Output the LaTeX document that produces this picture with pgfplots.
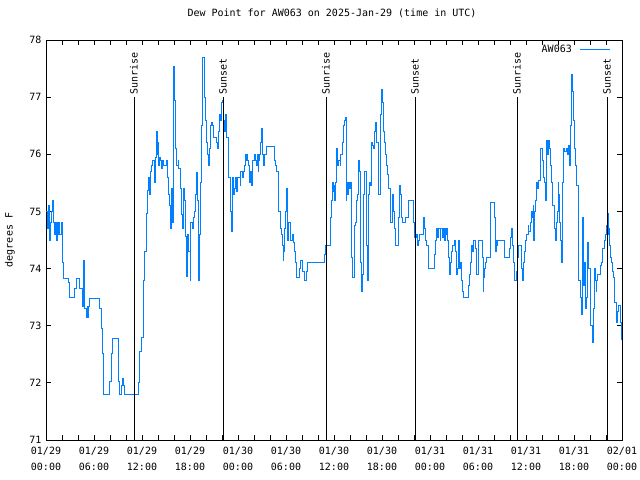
\documentclass[border=0pt]{standalone}
\usepackage{pgfplots}
\usepackage{pgfplotstable}
\pgfplotsset{compat=1.18}
\usepackage{fontspec}
\setmainfont{DejaVu Sans Mono}
\definecolor{dew}{RGB}{0,128,255}
\pgfplotstableread{
p v
0 75.0
1 74.7
2 75.1
3 74.5
4 74.8
5 75.0
6 75.2
7 74.8
8 74.6
9 74.8
10 74.5
11 74.8
12 74.6
13 74.8
14 74.6
15 74.8
16 74.1
17 73.83
22 73.75
24 73.5
29 73.65
30 73.83
34 73.65
36 73.33
37 73.65
38 74.15
39 73.3
40 73.15
41 73.33
42 73.15
43 73.33
44 73.47
54 73.3
55 72.96
56 72.52
57 72.03
58 71.79
64 72.03
65 72.52
66 72.78
72 72.52
73 72.03
74 71.79
75 71.95
76 72.08
78 71.95
79 71.79
93 72.0
94 72.55
95 72.8
97 73.15
98 73.8
99 74.3
100 74.55
101 74.97
102 75.37
103 75.6
104 75.3
105 75.7
106 75.8
107 75.9
108 75.5
109 75.95
110 76.4
111 76.0
112 76.2
113 75.8
114 75.95
115 75.9
116 75.75
117 75.9
118 75.8
119 75.8
120 75.9
121 75.6
122 75.3
123 75.1
124 74.7
125 75.15
126 75.4
127 74.8
128 77.53
129 76.95
130 76.1
131 75.8
132 75.9
133 75.75
134 75.4
135 74.95
136 74.7
137 75.0
138 75.4
139 75.2
140 74.57
141 73.87
142 74.6
143 74.3
144 73.8
145 74.8
146 74.7
147 74.9
148 75.0
149 75.3
150 75.69
152 75.2
153 73.8
154 74.6
155 75.5
156 76.5
157 77.7
158 77.0
159 76.6
160 76.2
161 76.0
162 75.9
163 75.8
164 76.1
165 76.5
166 76.55
167 76.5
168 76.3
169 76.3
170 76.2
171 76.1
172 76.4
173 76.7
174 76.6
175 76.7
176 76.9
177 76.95
178 76.6
179 76.4
180 76.7
181 76.3
182 76.1
183 75.6
184 75.0
185 74.65
186 75.6
187 75.45
188 75.3
189 75.4
190 75.6
191 75.35
192 75.6
193 75.6
194 75.45
195 75.7
196 75.6
197 75.7
198 75.8
199 76.0
200 75.9
201 76.0
202 75.9
203 75.8
204 75.5
205 75.7
206 75.45
207 75.9
208 76.0
209 75.9
210 75.8
211 76.0
212 75.7
213 75.9
214 76.0
215 76.2
216 76.45
217 76.0
218 75.8
219 76.0
220 76.13
229 75.9
230 75.8
231 75.7
232 75.4
233 75.0
234 74.7
235 74.6
236 74.4
237 74.15
238 74.3
239 74.7
240 75.0
241 75.4
242 74.5
243 74.8
244 74.6
245 74.5
246 74.6
247 74.45
248 74.3
249 74.1
250 73.84
254 74.0
255 74.14
257 73.95
258 73.8
260 73.95
261 74.1
279 74.25
280 74.4
284 74.9
285 75.2
286 75.5
287 75.35
288 75.45
289 75.2
290 75.5
291 76.1
292 75.8
293 75.9
294 75.8
295 76.0
296 76.2
297 76.5
298 76.6
299 76.65
300 75.2
301 75.5
302 75.3
303 75.5
304 75.4
305 75.5
306 74.2
307 73.85
308 74.75
309 74.8
310 75.2
311 75.3
312 75.8
313 75.9
314 75.7
315 74.1
316 73.6
317 73.9
318 75.3
319 75.7
320 74.4
321 73.8
322 75.3
323 75.5
324 75.45
325 76.1
326 76.2
327 76.15
328 76.1
329 76.4
330 76.55
331 76.2
332 75.5
333 75.3
334 76.7
335 77.14
336 76.9
337 76.6
338 76.4
339 76.2
340 76.0
341 75.8
342 75.65
343 75.4
344 75.0
345 74.8
346 75.3
347 75.0
348 74.7
349 74.4
353 74.9
354 75.45
355 75.3
356 74.9
357 74.8
359 74.9
363 75.2
368 74.8
369 74.55
370 74.6
371 74.4
372 74.5
373 74.6
378 74.9
379 74.7
380 74.5
381 74.4
382 74.25
383 74.0
389 74.25
390 74.5
391 74.7
392 74.55
393 74.7
394 74.5
395 74.7
396 74.55
397 74.7
398 74.5
399 74.7
400 74.6
401 74.7
402 74.5
403 74.2
404 73.9
405 74.1
406 74.3
407 74.4
408 74.5
409 74.3
410 73.9
411 74.0
412 74.5
414 74.0
415 74.1
416 73.8
417 73.6
418 73.5
422 73.7
423 73.9
424 74.1
425 74.25
426 74.4
427 74.3
428 74.5
430 74.35
431 73.9
432 74.0
433 74.5
436 74.2
437 73.6
438 73.85
439 74.0
440 74.1
441 74.2
444 74.45
445 75.15
448 74.9
449 74.3
450 74.5
451 74.4
452 74.5
458 74.2
464 74.35
465 74.55
466 74.7
467 74.4
468 74.1
469 73.8
470 73.95
471 74.2
472 74.4
476 74.0
477 73.8
478 74.1
479 74.3
480 74.5
481 74.6
482 74.75
483 74.65
484 74.8
485 75.0
486 74.9
487 75.1
488 74.5
489 75.0
490 75.2
491 75.5
492 75.4
493 75.55
494 75.95
495 76.1
496 75.9
497 75.6
498 75.5
499 75.2
500 75.6
501 76.25
502 76.0
503 76.25
504 76.1
505 75.8
506 75.5
507 75.1
508 74.7
509 74.5
510 74.8
511 75.0
512 75.5
513 75.3
514 74.8
515 74.5
516 74.1
517 75.5
518 76.1
519 76.05
520 76.1
521 76.0
522 76.15
523 75.8
524 76.5
525 77.0
526 77.39
527 77.1
528 76.6
529 76.1
530 75.8
531 75.45
532 74.8
533 73.8
534 73.5
535 73.2
536 74.9
537 74.2
538 73.7
539 74.1
540 73.3
541 73.5
542 74.45
543 74.0
544 73.2
545 73.0
546 72.7
547 73.3
548 74.0
549 73.8
550 73.6
551 73.8
552 73.9
555 74.05
556 74.1
557 74.35
558 74.5
559 74.6
560 74.75
561 74.97
562 74.6
563 74.7
564 74.4
565 74.2
566 74.1
567 73.95
568 73.85
569 73.4
570 73.05
571 73.25
572 73.35
574 73.05
575 72.8
576 72.75
}\dewdata
\begin{document}
\begin{tikzpicture}[font=\fontsize{10bp}{12bp}\selectfont]
\begin{axis}[
  at={(0,0)}, anchor=south west,
  width=576bp, height=400bp, scale only axis,
  xmin=0, xmax=72, ymin=71, ymax=78,
  xtick={0,6,...,72},
  minor xtick={2,4,8,10,14,16,20,22,26,28,32,34,38,40,44,46,50,52,56,58,62,64,68,70},
  xticklabels={{01/29\\00:00},{01/29\\06:00},{01/29\\12:00},{01/29\\18:00},{01/30\\00:00},{01/30\\06:00},{01/30\\12:00},{01/30\\18:00},{01/31\\00:00},{01/31\\06:00},{01/31\\12:00},{01/31\\18:00},{02/01\\00:00}},
  xticklabel style={align=center, font=\fontsize{10bp}{16bp}\selectfont, yshift=-4bp},
  ytick={71,72,...,78},
  yticklabel style={font=\fontsize{10bp}{12bp}\selectfont, xshift=-1bp},
  /pgf/number format/assume math mode=true,
  tick align=inside,
  major tick length=5bp, minor tick length=5bp,
  tick style={black, line width=0.8bp},
  axis line style={black, line width=0.8bp},
  title={Dew Point for AW063 on 2025-Jan-29 (time in UTC)},
  title style={at={(axis description cs:0.5,1)}, anchor=center, yshift=21bp, xshift=-2bp},
  ylabel={degrees F},
  ylabel style={at={(axis description cs:0,0.5)}, anchor=center, rotate=0, xshift=0bp, yshift=36bp},
  legend plot pos=right,
  legend style={draw=none, fill=none, at={(axis description cs:1,1)}, anchor=north east, xshift=-8bp, yshift=-1bp, font=\fontsize{10bp}{12bp}\selectfont},
  legend image code/.code={\draw[#1] (0bp,0bp) -- (30bp,0bp);},
  clip=true,
]
\addplot[const plot mark left, color=dew, line width=1bp] table[x expr=\thisrow{p}/8, y=v] {\dewdata};
\addlegendentry{AW063\kern6bp}
\addplot[black, line width=1bp, forget plot] coordinates {(11,71) (11,77)};
\addplot[black, line width=1bp, forget plot] coordinates {(22.125,71) (22.125,77)};
\addplot[black, line width=1bp, forget plot] coordinates {(35,71) (35,77)};
\addplot[black, line width=1bp, forget plot] coordinates {(46.125,71) (46.125,77)};
\addplot[black, line width=1bp, forget plot] coordinates {(58.875,71) (58.875,77)};
\addplot[black, line width=1bp, forget plot] coordinates {(70.125,71) (70.125,77)};
\node[rotate=90, anchor=west, inner sep=2bp] at (axis cs:11,77) {Sunrise};
\node[rotate=90, anchor=west, inner sep=2bp] at (axis cs:22.125,77) {Sunset};
\node[rotate=90, anchor=west, inner sep=2bp] at (axis cs:35,77) {Sunrise};
\node[rotate=90, anchor=west, inner sep=2bp] at (axis cs:46.125,77) {Sunset};
\node[rotate=90, anchor=west, inner sep=2bp] at (axis cs:58.875,77) {Sunrise};
\node[rotate=90, anchor=west, inner sep=2bp] at (axis cs:70.125,77) {Sunset};
\end{axis}
\pgfresetboundingbox
\path[use as bounding box] (-46bp,-40bp) rectangle (594bp,440bp);
\end{tikzpicture}
\end{document}
